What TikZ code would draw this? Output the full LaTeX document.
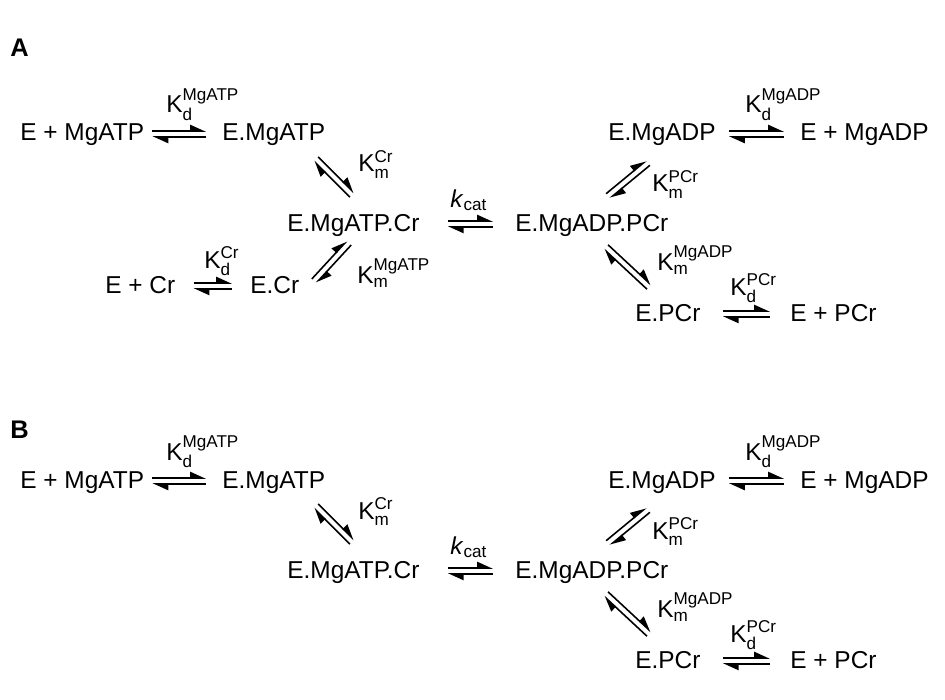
\documentclass[tikz,border=0pt]{standalone}
\usepackage{amsmath}
\usepackage{fontspec}
\setmainfont{Liberation Sans}
\usepackage{tikz}
\usetikzlibrary{calc,arrows.meta}
\tikzset{
  sp/.style={anchor=base west, inner sep=0pt, font=\fontsize{13.9}{16}\selectfont},
  rate/.style={anchor=base west, inner sep=0pt, font=\fontsize{13.9}{16}\selectfont},
  panel/.style={anchor=base west, inner sep=0pt, font=\fontsize{14.5}{16}\selectfont\bfseries},
  harp/.style={line width=0.9pt, -{Triangle[harpoon,length=8pt,width=7pt]}},
}
\newcommand{\Kd}[1]{K$_\text{d}^\text{#1}$}
\newcommand{\Km}[1]{K$_\text{m}^\text{#1}$}
% two half-headed lines, one each way, between two points
\newcommand{\eqarr}[2]{%
  \coordinate (eqs) at (#1);
  \coordinate (eqe) at (#2);
  \draw[harp] ($(eqs)!1.7pt!90:(eqe)$) -- ($(eqe)!1.7pt!-90:(eqs)$);
  \draw[harp] ($(eqe)!1.7pt!90:(eqs)$) -- ($(eqs)!1.7pt!-90:(eqe)$);
}

\begin{document}
\begin{tikzpicture}[x=0.02cm, y=-0.02cm]
  \useasboundingbox (0,0) rectangle (945,699);

  % A
  \node[panel] (labA) at (10,57) {A};
  \node[sp] (AeMgATP)  at (20,141)  {E + MgATP};
  \node[sp] (AEMgATP)  at (222,141) {E.MgATP};
  \node[sp] (AEMgADP)  at (608,141) {E.MgADP};
  \node[sp] (AeMgADP)  at (800,141) {E + MgADP};
  \node[sp] (AEMgATPCr) at (287,231) {E.MgATP.Cr};
  \node[sp] (AEMgADPPCr) at (515,231) {E.MgADP.PCr};
  \node[sp] (AeCr)  at (105,293) {E + Cr};
  \node[sp] (AECr)  at (250,293) {E.Cr};
  \node[sp] (AEPCr) at (635,321) {E.PCr};
  \node[sp] (AePCr) at (790,321) {E + PCr};

  \eqarr{$(AeMgATP.base east)+(8,-7)$}{$(AEMgATP.base west)+(-16,-7)$}
  \eqarr{$(AEMgADP.base east)+(13,-7)$}{$(AeMgADP.base west)+(-16,-7)$}
  \eqarr{$(AEMgATPCr.base east)+(28,-7)$}{$(AEMgADPPCr.base west)+(-22,-7)$}
  \eqarr{$(AeCr.base east)+(18,-7)$}{$(AECr.base west)+(-18,-7)$}
  \eqarr{$(AEPCr.base east)+(22,-7)$}{$(AePCr.base west)+(-20,-7)$}
  \eqarr{$(AEMgATP.base west)+(94,18)$}{$(AEMgATPCr.base west)+(65,-36)$}
  \eqarr{$(AECr.base west)+(64,-12)$}{$(AEMgATPCr.base west)+(62,12)$}
  \eqarr{$(AEMgADPPCr.base west)+(93,-35)$}{$(AEMgADP.base west)+(40,22)$}
  \eqarr{$(AEMgADPPCr.base west)+(91,16)$}{$(AEPCr.base west)+(14,-34)$}

  \node[rate] (AkdATP) at (166,113) {\Kd{MgATP}};
  \node[rate] (AkdADP) at (745,113) {\Kd{MgADP}};
  \node[rate] (Akcat)  at (450,207) {\textit{k}$_\text{cat}$};
  \node[rate] (AkdCr)  at (204,268) {\Kd{Cr}};
  \node[rate] (AkdPCr) at (730,295) {\Kd{PCr}};
  \node[rate] (AkmCr)  at (358,172) {\Km{Cr}};
  \node[rate] (AkmATP) at (357,283) {\Km{MgATP}};
  \node[rate] (AkmPCr) at (652,192) {\Km{PCr}};
  \node[rate] (AkmADP) at (657,270) {\Km{MgADP}};

  % B
  \begin{scope}[yshift=-347*0.02cm]
    \node[panel] (labB) at (10,91) {B};
    \node[sp] (BeMgATP)  at (20,141)  {E + MgATP};
    \node[sp] (BEMgATP)  at (222,141) {E.MgATP};
    \node[sp] (BEMgADP)  at (608,141) {E.MgADP};
    \node[sp] (BeMgADP)  at (800,141) {E + MgADP};
    \node[sp] (BEMgATPCr) at (287,231) {E.MgATP.Cr};
    \node[sp] (BEMgADPPCr) at (515,231) {E.MgADP.PCr};
    \node[sp] (BEPCr) at (635,321) {E.PCr};
    \node[sp] (BePCr) at (790,321) {E + PCr};

    \eqarr{$(BeMgATP.base east)+(8,-7)$}{$(BEMgATP.base west)+(-16,-7)$}
    \eqarr{$(BEMgADP.base east)+(13,-7)$}{$(BeMgADP.base west)+(-16,-7)$}
    \eqarr{$(BEMgATPCr.base east)+(28,-7)$}{$(BEMgADPPCr.base west)+(-22,-7)$}
    \eqarr{$(BEPCr.base east)+(22,-7)$}{$(BePCr.base west)+(-20,-7)$}
    \eqarr{$(BEMgATP.base west)+(94,18)$}{$(BEMgATPCr.base west)+(65,-36)$}
    \eqarr{$(BEMgADPPCr.base west)+(93,-35)$}{$(BEMgADP.base west)+(40,22)$}
    \eqarr{$(BEMgADPPCr.base west)+(91,16)$}{$(BEPCr.base west)+(14,-34)$}

    \node[rate] (BkdATP) at (166,113) {\Kd{MgATP}};
    \node[rate] (BkdADP) at (745,113) {\Kd{MgADP}};
    \node[rate] (Bkcat)  at (450,207) {\textit{k}$_\text{cat}$};
    \node[rate] (BkdPCr) at (730,295) {\Kd{PCr}};
    \node[rate] (BkmCr)  at (358,172) {\Km{Cr}};
    \node[rate] (BkmPCr) at (652,192) {\Km{PCr}};
    \node[rate] (BkmADP) at (657,270) {\Km{MgADP}};
  \end{scope}
\end{tikzpicture}
\end{document}
